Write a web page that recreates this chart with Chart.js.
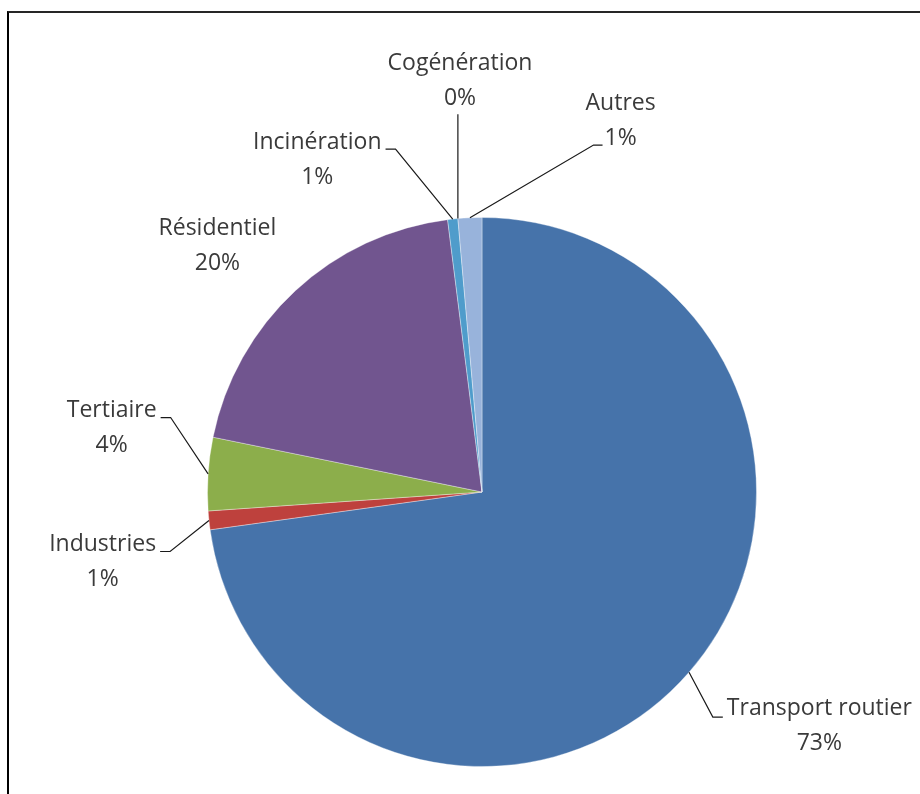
<!DOCTYPE html>
<html>
<head>
<meta charset="utf-8">
<script src="https://cdn.jsdelivr.net/npm/chart.js@4"></script>
<style>
    body { margin: 0; background: #fff; }
    #wrap { position: relative; width: 920px; height: 794px; overflow: hidden; }
    #frame { position: absolute; left: 7px; top: 11px; width: 1000px; height: 1000px;
             border-top: 2px solid #262626; border-left: 2px solid #000; }
    canvas { position: absolute; left: 0; top: 0; }
</style>
</head>
<body>
<div id="wrap">
    <div id="frame"></div>
    <canvas id="pie" width="920" height="794"></canvas>
</div>
<script>
// Données (en %)
const sectors = ['Transport routier', 'Industries', 'Tertiaire', 'Résidentiel', 'Incinération', 'Cogénération', 'Autres'];
const shares = [72.8, 1.1, 4.3, 19.8, 0.6, 0, 1.4];

// couleurs des parts
const sliceColors = ['#4673aa', '#be413d', '#8cae4b', '#71558f', '#4f9ccb', '#f79646', '#98b3db'];

// position des étiquettes, en rayons depuis le centre, et type de trait de rappel
const labelOffsets = [[1.229, 0.851], [-1.382, 0.255], [-1.349, -0.233], [-0.964, -0.895], [-0.60, -1.211], [-0.08, -1.498], [0.505, -1.353]];
const leaderTypes = ['left1', 'right', 'right', 'none', 'right', 'bottom', 'left2'];

const labelPlugin = {
    id: 'pieLabels',
    afterDraw(chart) {
        const ctx = chart.ctx;
        const arcs = chart.getDatasetMeta(0).data;
        const total = shares.reduce((a, b) => a + b, 0);
        ctx.save();
        ctx.font = '23px "Open Sans"';
        ctx.fillStyle = '#3a3a3a';
        ctx.textAlign = 'center';
        ctx.textBaseline = 'middle';
        ctx.strokeStyle = '#1a1a1a';
        ctx.lineWidth = 1.2;
        arcs.forEach((arc, i) => {
            const {x, y, startAngle, endAngle, outerRadius} = arc.getProps(['x', 'y', 'startAngle', 'endAngle', 'outerRadius'], true);
            const mid = (startAngle + endAngle) / 2;
            const ex = x + Math.cos(mid) * outerRadius;
            const ey = y + Math.sin(mid) * outerRadius;
            const lx = x + labelOffsets[i][0] * outerRadius;
            const ly = y + labelOffsets[i][1] * outerRadius;
            const line1 = sectors[i];
            const line2 = Math.round(shares[i] / total * 100) + '%';
            const y1 = ly - 17.5, y2 = ly + 17.5;
            ctx.fillText(line1, lx, y1);
            ctx.fillText(line2, lx, y2);

            const w1 = ctx.measureText(line1).width;
            const w2 = ctx.measureText(line2).width;
            let pts = null;
            switch (leaderTypes[i]) {
                case 'right': {
                    const sx = lx + w1 / 2 + 4, sy = y1 + 7;
                    pts = [[sx, sy], [sx + 10, sy], [ex, ey]];
                    break;
                }
                case 'left1': {
                    const sx = lx - w1 / 2 - 4, sy = y1 + 9;
                    pts = [[sx, sy], [sx - 10, sy], [ex, ey]];
                    break;
                }
                case 'left2': {
                    const sx = lx - w2 / 2 - 2, sy = y2 + 7;
                    pts = [[sx, sy], [sx - 9, sy], [ex, ey]];
                    break;
                }
                case 'bottom':
                    pts = [[ex, y2 + 16], [ex, ey]];
                    break;
            }
            if (pts) {
                ctx.beginPath();
                ctx.moveTo(pts[0][0], pts[0][1]);
                pts.slice(1).forEach(p => ctx.lineTo(p[0], p[1]));
                ctx.stroke();
            }
        });
        ctx.restore();
    }
};

new Chart(document.getElementById('pie'), {
    type: 'pie',
    data: {
        labels: sectors,
        datasets: [{
            data: shares,
            backgroundColor: sliceColors,
            borderColor: 'rgba(255,255,255,0.35)',
            borderWidth: 1
        }]
    },
    options: {
        responsive: false,
        animation: false,
        layout: { padding: { top: 217, bottom: 27, left: 200, right: 156 } },
        plugins: {
            legend: { display: false },
            tooltip: { enabled: false }
        }
    },
    plugins: [labelPlugin]
});
</script>
</body>
</html>
